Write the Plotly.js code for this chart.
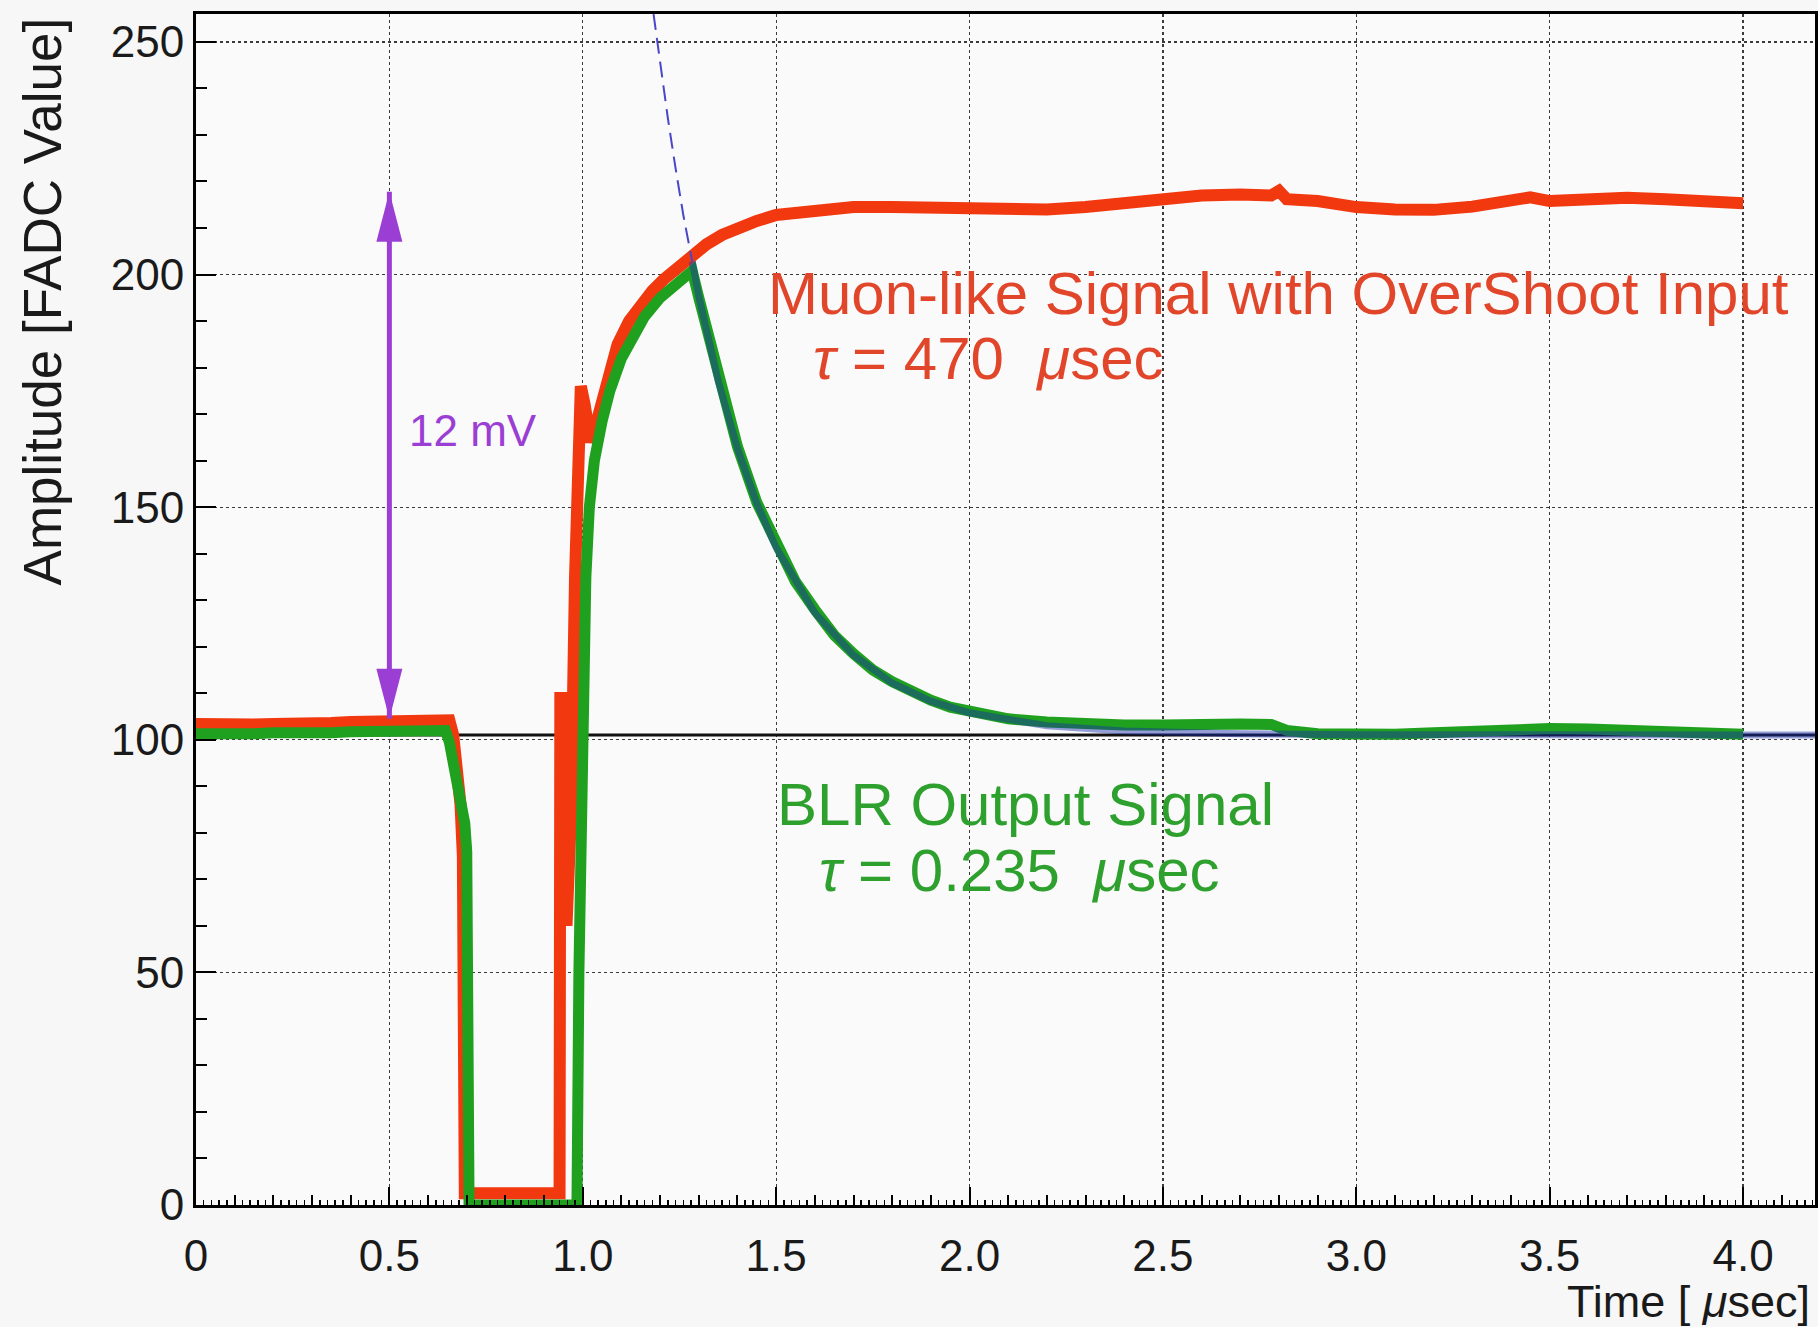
<!DOCTYPE html>
<html><head><meta charset="utf-8">
<script src="https://cdn.plot.ly/plotly-3.0.1.min.js"></script>
<style>html,body{margin:0;padding:0;background:#f7f7f7}#chart{width:1818px;height:1327px}</style>
</head><body><div id="chart"></div>
<script>
// ---- axis ticks ----
const xTickVals = [0, 0.5, 1.0, 1.5, 2.0, 2.5, 3.0, 3.5, 4.0];
const xTickText = ['0', '0.5', '1.0', '1.5', '2.0', '2.5', '3.0', '3.5', '4.0'];
const yTickVals = [0, 50, 100, 150, 200, 250];
const yTickText = ['0', '50', '100', '150', '200', '250'];
const xRange = [0, 4.186];
const yRange = [0, 256];

// ---- Muon-like signal with overshoot input (red) ----
const muonTime = [0.00,0.05,0.10,0.15,0.20,0.25,0.30,0.35,0.40,0.45,0.50,0.55,0.60,0.64,0.655,0.665,0.675,0.684,0.69,0.693,0.695,0.80,0.94,0.942,0.955,0.958,0.97,0.98,0.995,1.005,1.02,1.035,1.05,1.07,1.09,1.12,1.15,1.18,1.21,1.24,1.27,1.29,1.32,1.36,1.40,1.45,1.50,1.60,1.70,1.80,1.90,2.00,2.10,2.20,2.30,2.40,2.50,2.60,2.70,2.78,2.80,2.82,2.90,3.00,3.10,3.20,3.30,3.40,3.45,3.50,3.60,3.70,3.80,3.90,4.00];
const muonAmp  = [103.4,103.2,103.0,103.3,103.4,103.3,103.5,103.6,103.8,103.9,104.0,104.1,104.3,104.6,104.2,101,95,86,75,40,2.5,2.5,2.5,109,109,60,85,135,176,172,164,168,173,179,185,190,193.5,196.5,199,201,203,205,206.5,208.5,210,211.5,212.8,213.8,214.5,214.5,214.3,214.0,213.8,214.0,214.5,215.5,216.5,217.0,217.2,217.0,218.0,216.2,215.8,214.5,214.0,213.9,214.6,215.8,216.6,215.8,216.2,216.5,216.2,216.0,215.3];

// ---- BLR output signal (green) ----
const blrTime = [0.00,0.05,0.10,0.15,0.20,0.25,0.30,0.35,0.40,0.45,0.50,0.55,0.60,0.645,0.655,0.666,0.683,0.695,0.700,0.703,0.706,0.85,0.985,0.99,0.998,1.008,1.017,1.03,1.05,1.07,1.10,1.13,1.16,1.20,1.24,1.27,1.283,1.30,1.33,1.36,1.40,1.45,1.50,1.55,1.60,1.65,1.70,1.75,1.80,1.85,1.90,1.95,2.00,2.05,2.10,2.20,2.30,2.40,2.50,2.60,2.70,2.78,2.82,2.90,3.00,3.10,3.20,3.30,3.40,3.50,3.60,3.70,3.80,3.90,4.00];
const blrAmp  = [101.3,101.2,101.4,101.3,101.5,101.4,101.6,101.5,101.7,101.8,101.9,101.9,102.0,102.0,99.5,95,89,82,76,40,0,0,0,50,110,135,150,160,168.5,175,182,187,191,195,198,199.5,200.8,195,185,176,163,151,142,134,128,122.5,118.5,115,112.5,110.3,108.5,107,106,105,104.5,103.8,103.3,103.2,103.2,103.5,103.4,103.3,102.0,101.3,101.0,101.2,101.5,101.9,102.2,102.4,102.3,102.0,101.7,101.4,101.2];

// ---- exponential fit curve (blue) ----
const fitDashTime = [1.183,1.20,1.22,1.24,1.26,1.283];
const fitDashAmp  = [256,245.4,233.6,222.8,212.8,202.8];
const fitTime = [1.283,1.30,1.35,1.40,1.45,1.50,1.60,1.70,1.80,1.90,2.00,2.20,2.40,2.70,3.00,3.50,4.186];
const fitAmp  = [202.8,195.3,177.2,162.6,150.8,141.3,127.3,118.2,112.2,108.3,105.8,103.0,101.9,101.3,101.1,101.0,101.0];

// ---- baseline line (black) ----
const baselineTime = [0, 4.186];
const baselineAmp = [101, 101];

// ---- 12 mV arrow ----
const arrowTime = 0.5;
const arrowLow = 104.5;
const arrowHigh = 217.8;

const FONT = 'Liberation Sans, Arial, Helvetica, sans-serif';
const RED = '#f2380f';
const GREEN = '#1fa01f';
const PURPLE = '#9a3ed4';

const traces = [
  {x: baselineTime, y: baselineAmp, mode: 'lines', line: {color: '#111111', width: 3}, hoverinfo: 'skip'},
  {x: muonTime, y: muonAmp, mode: 'lines', line: {color: RED, width: 12}, hoverinfo: 'skip'},
  {x: blrTime, y: blrAmp, mode: 'lines', line: {color: GREEN, width: 11}, hoverinfo: 'skip'},
  {x: fitTime, y: fitAmp, mode: 'lines', line: {color: 'rgba(25,45,170,0.45)', width: 7}, hoverinfo: 'skip'},
  {x: fitDashTime, y: fitDashAmp, mode: 'lines', line: {color: '#4a46c8', width: 2, dash: '16px,8px'}, hoverinfo: 'skip'},
  {x: [], y: [], xaxis: 'x2', mode: 'lines', hoverinfo: 'skip'}
];

const ann = (text, x, y, color, size, extra) => Object.assign({
  text: text, x: x, y: y, xref: 'x', yref: 'y', showarrow: false,
  xanchor: 'left', yanchor: 'middle', font: {family: FONT, size: size, color: color}
}, extra || {});

const layout = {
  width: 1818, height: 1327,
  margin: {l: 196, r: 3, t: 14, b: 122, pad: 0},
  paper_bgcolor: '#f7f7f7', plot_bgcolor: '#fafafa',
  showlegend: false,
  xaxis: {
    range: xRange, showline: true, mirror: true, linecolor: '#000', linewidth: 3,
    ticks: 'inside', ticklen: 18, tickwidth: 2, tickcolor: '#000',
    tickmode: 'array', tickvals: xTickVals, ticktext: xTickText,
    tickfont: {family: FONT, size: 44, color: '#1a1a1a'}, ticklabelstandoff: 10,
    showgrid: true, gridcolor: '#3a3a3a', gridwidth: 1.3, griddash: 'dot', zeroline: false,
    minor: {tick0: 0, dtick: 0.1, ticks: 'inside', ticklen: 10, tickwidth: 2, tickcolor: '#000', showgrid: false}
  },
  xaxis2: {
    overlaying: 'x', anchor: 'y', side: 'bottom', range: xRange, showline: false, showgrid: false,
    zeroline: false, ticks: 'inside', ticklen: 5, tickwidth: 1.5, tickcolor: '#000',
    tick0: 0, dtick: 0.02, showticklabels: false
  },
  yaxis: {
    range: yRange, showline: true, mirror: true, linecolor: '#000', linewidth: 3,
    ticks: 'inside', ticklen: 20, tickwidth: 2, tickcolor: '#000',
    tickmode: 'array', tickvals: yTickVals, ticktext: yTickText,
    tickfont: {family: FONT, size: 44, color: '#1a1a1a'}, ticklabelstandoff: 0,
    showgrid: true, gridcolor: '#3a3a3a', gridwidth: 1.3, griddash: 'dot', zeroline: false,
    minor: {tick0: 0, dtick: 10, ticks: 'inside', ticklen: 11, tickwidth: 2, tickcolor: '#000', showgrid: false}
  },
  shapes: [
    {type: 'line', xref: 'x', yref: 'y', x0: arrowTime, x1: arrowTime, y0: arrowLow, y1: arrowHigh,
     line: {color: PURPLE, width: 5}},
    {type: 'path', xref: 'x', yref: 'y', xsizemode: 'pixel', ysizemode: 'pixel',
     xanchor: arrowTime, yanchor: arrowHigh, path: 'M0,0 L-13,-50 L13,-50 Z',
     fillcolor: PURPLE, line: {width: 0}},
    {type: 'path', xref: 'x', yref: 'y', xsizemode: 'pixel', ysizemode: 'pixel',
     xanchor: arrowTime, yanchor: arrowLow, path: 'M0,0 L-13,50 L13,50 Z',
     fillcolor: PURPLE, line: {width: 0}}
  ],
  annotations: [
    ann('Muon-like Signal with OverShoot Input', 1.475, 196, '#e2462a', 60),
    ann('<i>τ</i> = 470 \u00a0<i>μ</i>sec', 1.59, 182, '#e2462a', 60),
    ann('BLR Output Signal', 1.497, 86, '#2ea02e', 60),
    ann('<i>τ</i> = 0.235 \u00a0<i>μ</i>sec', 1.605, 72, '#2ea02e', 60),
    ann('12 mV', 0.545, 166.5, PURPLE, 44),
    {text: 'Amplitude [FADC Value]', xref: 'paper', yref: 'paper', x: -0.095, y: 0.999,
     xanchor: 'center', yanchor: 'top', textangle: -90, showarrow: false,
     font: {family: FONT, size: 53, color: '#1a1a1a'}},
    {text: 'Time [ <i>μ</i>sec]', xref: 'paper', yref: 'paper', x: 0.998, y: -0.081,
     xanchor: 'right', yanchor: 'middle', showarrow: false,
     font: {family: FONT, size: 45, color: '#1a1a1a'}}
  ]
};

Plotly.newPlot('chart', traces, layout, {staticPlot: true, displayModeBar: false});
</script>
</body></html>
